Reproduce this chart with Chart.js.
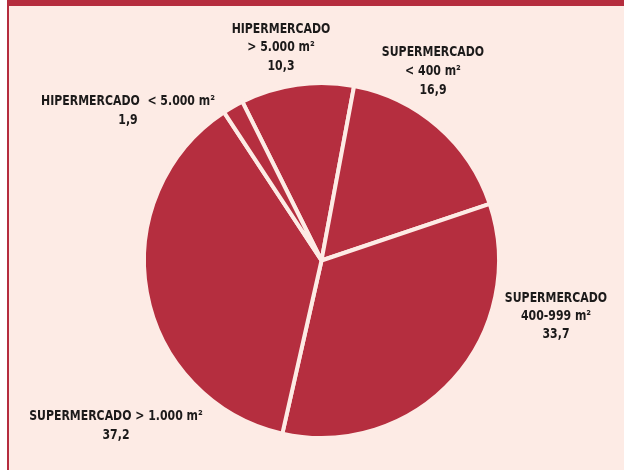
<!DOCTYPE html>
<html><head><meta charset="utf-8">
<script src="https://cdn.jsdelivr.net/npm/chart.js@4/dist/chart.umd.min.js"></script>
<style>
html,body{margin:0;padding:0;background:#fff;width:624px;height:470px;overflow:hidden}
#frame{position:absolute;left:7px;top:0;width:617px;height:470px;background:#fdebe5;border-left:2px solid #b52d3e;box-sizing:border-box}
#band{position:absolute;left:7px;top:0;width:617px;height:6px;background:#b52d3e}
canvas{position:absolute;left:0;top:0}
</style></head><body>
<div id="frame"></div><div id="band"></div>
<canvas id="c" width="624" height="470"></canvas>
<script>
// Data
const categories = [
  "HIPERMERCADO > 5.000 m²",
  "SUPERMERCADO < 400 m²",
  "SUPERMERCADO 400-999 m²",
  "SUPERMERCADO > 1.000 m²",
  "HIPERMERCADO < 5.000 m²"
];
const labelLines = [
  ["HIPERMERCADO", "> 5.000 m²"],
  ["SUPERMERCADO", "< 400 m²"],
  ["SUPERMERCADO", "400-999 m²"],
  ["SUPERMERCADO > 1.000 m²"],
  ["HIPERMERCADO  < 5.000 m²"]
];
const values = [10.3, 16.9, 33.7, 37.2, 1.9];

// Label anchor positions (pixels): x center, first line y, line step
const labelAnchors = [
  [281, 29, 18.5],
  [433, 52, 19],
  [556, 298, 18],
  [116, 416, 19],
  [128, 101, 19]
];

const RED = '#b52e3f';
const BG = '#fdebe5';

const labelPlugin = {
  id: 'labels',
  afterDraw(chart) {
    const ctx = chart.ctx;
    ctx.save();
    ctx.font = 'bold 13.5px "DejaVu Sans Condensed", sans-serif';
    ctx.fillStyle = '#1c1a1a';
    ctx.textAlign = 'center';
    ctx.textBaseline = 'middle';
    values.forEach((v, i) => {
      const [x, y, step] = labelAnchors[i];
      const lines = labelLines[i].concat([v.toFixed(1).replace('.', ',')]);
      lines.forEach((t, k) => {
        ctx.save();
        ctx.translate(x, y + k * step);
        ctx.scale(0.9, 1.05);
        ctx.fillText(t, 0, 0);
        ctx.restore();
      });
    });
    ctx.restore();
  }
};

new Chart(document.getElementById('c'), {
  type: 'pie',
  data: {
    labels: categories,
    datasets: [{
      data: values,
      backgroundColor: RED,
      borderColor: BG,
      borderWidth: 4,
      hoverOffset: 0
    }]
  },
  options: {
    responsive: false,
    animation: false,
    rotation: -26.5,
    layout: { padding: { left: 142, right: 123, top: 81, bottom: 30 } },
    plugins: { legend: { display: false }, tooltip: { enabled: false } },
    events: []
  },
  plugins: [labelPlugin]
});
</script>
</body></html>
